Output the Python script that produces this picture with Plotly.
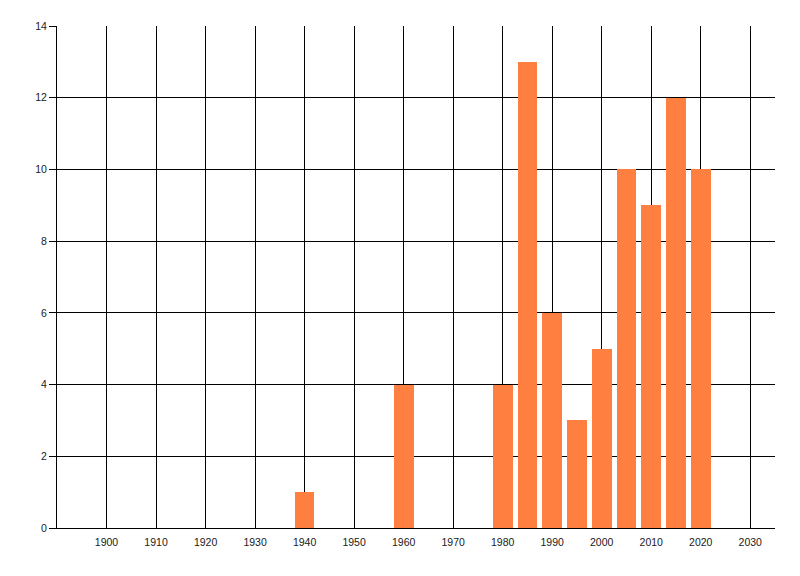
import plotly.graph_objects as go

years = [1940, 1960, 1980, 1985, 1990, 1995, 2000, 2005, 2010, 2015, 2020]
counts = [1, 4, 4, 13, 6, 3, 5, 10, 9, 12, 10]
x_ticks = list(range(1900, 2031, 10))
y_ticks = list(range(0, 15, 2))

fig = go.Figure(go.Bar(x=years, y=counts, width=4, marker=dict(color="#FF7F40", line=dict(width=0))))

font = dict(family="Liberation Sans, Arial, sans-serif", size=10.5, color="#1a1a1a")
fig.update_layout(
    width=800, height=576,
    margin=dict(l=49, r=33, t=18, b=56),
    paper_bgcolor="white", plot_bgcolor="white",
    showlegend=False, font=font, bargap=0,
)
fig.update_xaxes(
    range=[1890, 2035], tickvals=x_ticks, ticktext=[str(v) for v in x_ticks],
    showgrid=True, gridcolor="black", gridwidth=1,
    showline=True, linecolor="black", linewidth=1,
    ticks="", ticklabelstandoff=4, zeroline=False, tickfont=font,
)
fig.update_yaxes(
    range=[0, 14], tickvals=y_ticks,
    showgrid=True, gridcolor="black", gridwidth=1,
    showline=True, linecolor="black", linewidth=1,
    ticks="outside", ticklen=7, tickcolor="black", zeroline=False, tickfont=font,
)
fig.write_html("out.html")
